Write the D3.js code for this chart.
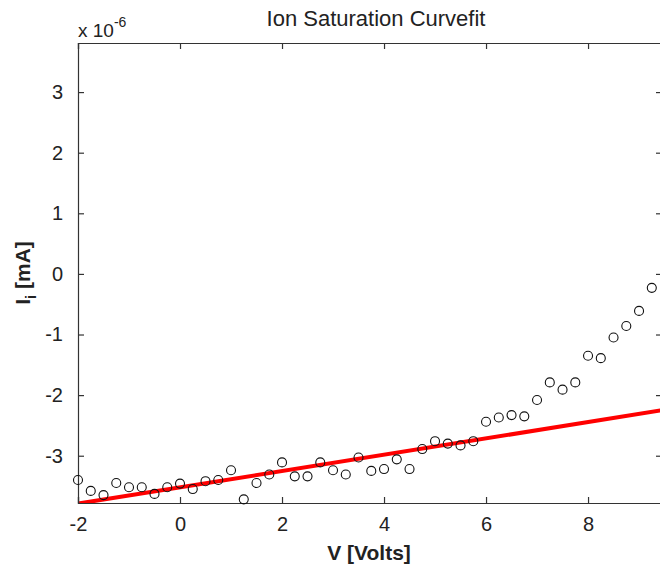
<!DOCTYPE html>
<html>
<head>
<meta charset="utf-8">
<script src="https://cdn.jsdelivr.net/npm/d3@7"></script>
<style>
  body { margin: 0; background: #fff; }
  svg text { font-family: "Liberation Sans", Arial, Helvetica, sans-serif; fill: #222; }
</style>
</head>
<body>
<div id="grafico"></div>
<script>
// dados (corrente em unidades de 1e-6 mA)
var tensao = [-2, -1.75, -1.5, -1.25, -1, -0.75, -0.5, -0.25, 0, 0.25, 0.5, 0.75,
              1, 1.25, 1.5, 1.75, 2, 2.25, 2.5, 2.75, 3, 3.25, 3.5, 3.75,
              4, 4.25, 4.5, 4.75, 5, 5.25, 5.5, 5.75, 6, 6.25, 6.5, 6.75,
              7, 7.25, 7.5, 7.75, 8, 8.25, 8.5, 8.75, 9, 9.25];
var corrente = [-3.40, -3.58, -3.65, -3.45, -3.52, -3.52, -3.63, -3.52, -3.46, -3.55, -3.42, -3.40,
                -3.24, -3.72, -3.45, -3.31, -3.11, -3.34, -3.34, -3.11, -3.24, -3.31, -3.03, -3.25,
                -3.22, -3.06, -3.22, -2.89, -2.76, -2.80, -2.83, -2.76, -2.44, -2.37, -2.33, -2.35,
                -2.08, -1.79, -1.91, -1.79, -1.35, -1.39, -1.05, -0.86, -0.61, -0.23];
// reta ajustada
var ajusteV = [-2, 9.45];
var ajusteI = [-3.79, -2.25];

var ticksX = [-2, 0, 2, 4, 6, 8];
var ticksY = [-3, -2, -1, 0, 1, 2, 3];

var largura = 660, altura = 566;
var esq = 78, dir = 662, topo = 43, base = 503;

var svg = d3.select("#grafico").append("svg")
    .attr("width", largura)
    .attr("height", altura);

var x = d3.scaleLinear().domain([-2, 9.45]).range([esq, dir]);
var y = d3.scaleLinear().domain([-3.78, 3.81]).range([base, topo]);

// area do grafico (clip so para a linha)
svg.append("clipPath").attr("id", "clip")
    .append("rect")
    .attr("x", esq).attr("y", topo)
    .attr("width", dir - esq).attr("height", base - topo);

// linha vermelha do ajuste
var linha = d3.line()
    .x(function(d) { return x(d[0]); })
    .y(function(d) { return y(d[1]); });

svg.append("path")
    .datum(d3.zip(ajusteV, ajusteI))
    .attr("clip-path", "url(#clip)")
    .attr("d", linha)
    .attr("fill", "none")
    .attr("stroke", "#ff0000")
    .attr("stroke-width", 4);

// eixos (ticks para dentro, estilo matlab)
var tam = 6;
var eixoBaixo = d3.axisBottom(x).tickValues(ticksX).tickSize(-tam).tickPadding(14)
    .tickFormat(function(d) { return d < 0 ? "-" + Math.abs(d) : d; });
var eixoCima = d3.axisTop(x).tickValues(ticksX).tickSize(-tam).tickFormat("");
var eixoEsq = d3.axisLeft(y).tickValues(ticksY).tickSize(-tam).tickPadding(15)
    .tickFormat(function(d) { return d < 0 ? "-" + Math.abs(d) : d; });
var eixoDir = d3.axisRight(y).tickValues(ticksY).tickSize(-tam).tickFormat("");

var gB = svg.append("g").attr("transform", "translate(0," + base + ")").call(eixoBaixo);
var gT = svg.append("g").attr("transform", "translate(0," + topo + ")").call(eixoCima);
var gL = svg.append("g").attr("transform", "translate(" + esq + ",0)").call(eixoEsq);
var gR = svg.append("g").attr("transform", "translate(" + dir + ",0)").call(eixoDir);

[gB, gT, gL, gR].forEach(function(g) {
    g.select(".domain").attr("stroke", "#333").attr("stroke-width", 1.2);
    g.selectAll(".tick line").attr("stroke", "#333").attr("stroke-width", 1.2);
    g.selectAll(".tick text").attr("font-size", 20).attr("fill", "#222")
        .style("font-family", "'Liberation Sans', Arial, sans-serif");
});

// pontos medidos (por cima dos eixos, sem clip como no matlab)
svg.append("g").selectAll("circle")
    .data(d3.zip(tensao, corrente))
    .enter()
    .append("circle")
    .attr("cx", function(d) { return x(d[0]); })
    .attr("cy", function(d) { return y(d[1]); })
    .attr("r", 4.5)
    .attr("fill", "none")
    .attr("stroke", "#111")
    .attr("stroke-width", 1.1);

// multiplicador
var mult = svg.append("text").attr("x", 78).attr("y", 37).attr("font-size", 19);
mult.append("tspan").text("x 10");
mult.append("tspan").attr("dy", -10).attr("font-size", 14).text("-6");

// titulo
svg.append("text")
    .attr("x", 376).attr("y", 26)
    .attr("text-anchor", "middle")
    .attr("font-size", 22)
    .attr("fill", "#333")
    .text("Ion Saturation Curvefit");

// rotulo x
svg.append("text")
    .attr("x", 369).attr("y", 560)
    .attr("text-anchor", "middle")
    .attr("font-size", 21)
    .attr("font-weight", "bold")
    .text("V [Volts]");

// rotulo y
var rotY = svg.append("text")
    .attr("transform", "translate(30,273) rotate(-90)")
    .attr("text-anchor", "middle")
    .attr("font-size", 21)
    .attr("font-weight", "bold");
rotY.append("tspan").text("I");
rotY.append("tspan").attr("dy", 6).attr("font-size", 15).text("i");
rotY.append("tspan").attr("dy", -6).text(" [mA]");
</script>
</body>
</html>
